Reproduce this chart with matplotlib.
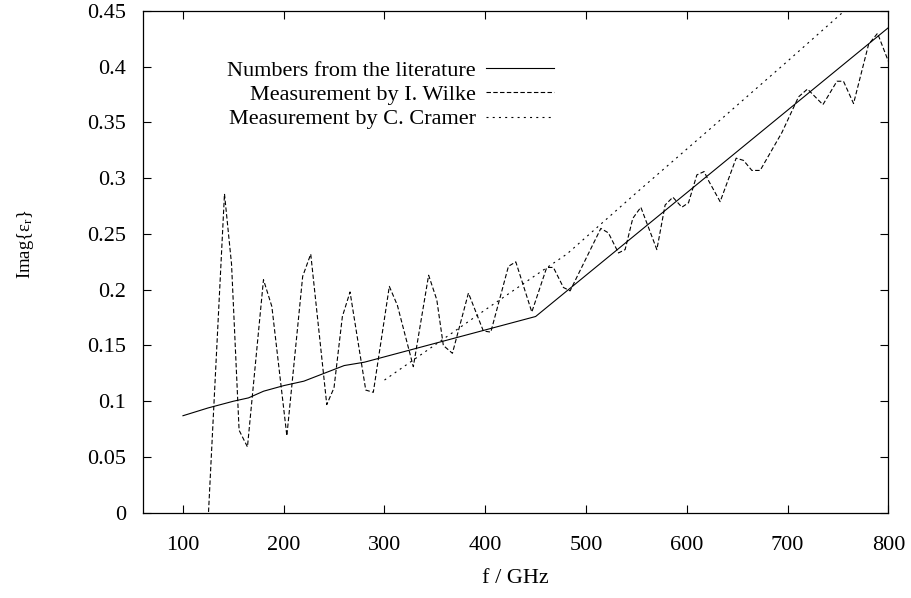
import matplotlib
matplotlib.use("Agg")
import matplotlib.pyplot as plt

plt.rcParams["font.family"] = ["Liberation Serif", "DejaVu Serif"]
plt.rcParams["mathtext.fontset"] = "custom"
plt.rcParams["mathtext.rm"] = "Liberation Serif"
plt.rcParams["mathtext.it"] = "Liberation Serif:italic"

# literature values
lit_f = [100, 125, 150, 165, 180, 200, 220, 240, 260, 280, 450, 800]
lit_eps = [0.087, 0.094, 0.100, 0.103, 0.109, 0.114, 0.118, 0.125, 0.132, 0.135, 0.176, 0.435]

# measurement by I. Wilke
wilke_f = [122, 141.2, 148.2, 155.7, 164.0, 179.9, 188.2, 203.1, 218.8, 226.8, 242.7,
           249.9, 258.2, 265.8, 281.4, 288.9, 304.8, 312.8, 328.6, 343.8, 351.9, 358.4,
           367.4, 383.3, 398.1, 405.5, 423.0, 430.3, 446.2, 461.0, 467.6, 477.6, 484.2,
           514.7, 522.2, 532.2, 538.8, 546.4, 554.4, 570.3, 578.5, 586.2, 595.1, 601.7,
           610.0, 617.2, 621.5, 633.1, 649.0, 656.3, 664.6, 672.8, 694.4, 710.9, 719.8,
           735.1, 749.0, 755.5, 765.5, 780.4, 789.3, 800]
wilke_eps = [-0.06, 0.286, 0.223, 0.074, 0.059, 0.209, 0.185, 0.069, 0.212, 0.232, 0.097,
             0.112, 0.176, 0.198, 0.110, 0.108, 0.203, 0.186, 0.131, 0.213, 0.191, 0.150,
             0.143, 0.197, 0.163, 0.162, 0.221, 0.225, 0.180, 0.220, 0.220, 0.202, 0.199,
             0.255, 0.251, 0.233, 0.236, 0.264, 0.274, 0.236, 0.276, 0.283, 0.274, 0.278,
             0.303, 0.306, 0.298, 0.279, 0.318, 0.316, 0.307, 0.307, 0.341, 0.373, 0.380,
             0.366, 0.387, 0.387, 0.367, 0.420, 0.430, 0.405]

# measurement by C. Cramer
cramer_f = [300, 335, 400, 450, 481, 550, 621.5, 700, 745, 800]
cramer_eps = [0.119, 0.141, 0.182, 0.213, 0.232, 0.287, 0.343, 0.405, 0.441, 0.485]

fs = 16

fig = plt.figure(figsize=(9.11, 5.98), dpi=100)
ax = fig.add_axes([0.1566, 0.1426, 0.8185, 0.839])

lw = 0.8
ax.plot(lit_f, lit_eps, color="black", lw=lw, label="Numbers from the literature")
ax.plot(wilke_f, wilke_eps, color="black", lw=lw, dashes=(4.0, 2.1),
        label="Measurement by I. Wilke")
ax.plot(cramer_f, cramer_eps, color="black", lw=lw, dashes=(1.8, 3.8),
        label="Measurement by C. Cramer")

ax.set_xlim(60, 800)
ax.set_ylim(0, 0.45)
ax.set_xticks(range(100, 801, 100))
ax.set_yticks([0, 0.05, 0.1, 0.15, 0.2, 0.25, 0.3, 0.35, 0.4, 0.45])
ax.set_yticklabels(["0", "0.05", "0.1", "0.15", "0.2", "0.25", "0.3", "0.35", "0.4", "0.45"])
ax.tick_params(direction="in", top=True, right=True, length=6, width=0.8,
               labelsize=fs)
ax.tick_params(axis="x", pad=17)
ax.tick_params(axis="y", pad=12)
for s in ax.spines.values():
    s.set_linewidth(0.9)

ax.set_xlabel("f / GHz", fontsize=fs)
ax.xaxis.set_label_coords(0.5, -0.112)
ax.set_ylabel("Imag{ε$_\\mathrm{r}$}", fontsize=13.5)
ax.yaxis.set_label_coords(-0.143, 0.535)

leg = ax.legend(loc="upper right", bbox_to_anchor=(0.566, 0.924), frameon=False,
                markerfirst=False, fontsize=fs, handlelength=3.06,
                handletextpad=0.45, labelspacing=0.17, borderpad=0)
for t in leg.get_texts():
    t.set_ha("right")
leg._legend_box.align = "right"

fig.savefig("out.png", dpi=100)
